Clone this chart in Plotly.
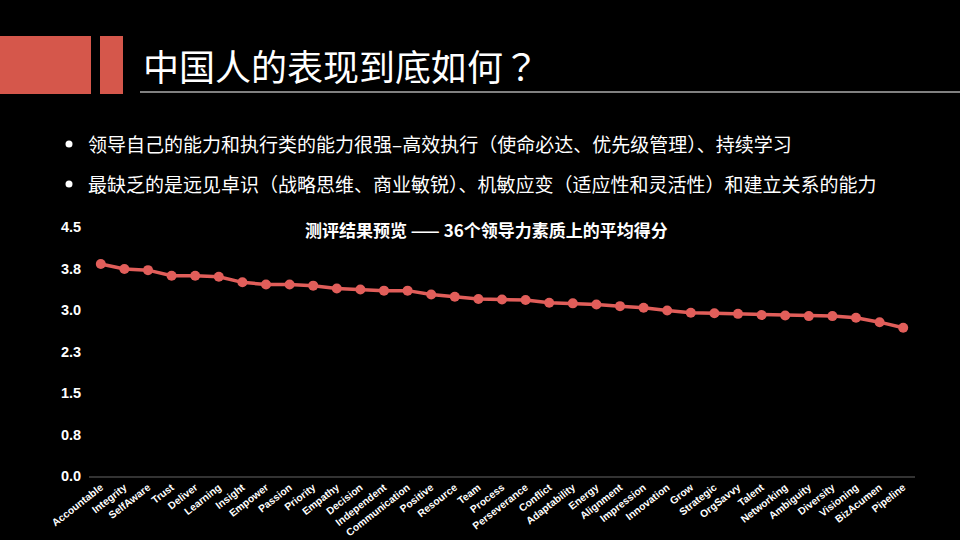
import plotly.graph_objects as go

# ---- data ----
categories = ["Accountable", "Integrity", "SelfAware", "Trust", "Deliver", "Learning",
              "Insight", "Empower", "Passion", "Priority", "Empathy", "Decision",
              "Independent", "Communication", "Positive", "Resource", "Team", "Process",
              "Perseverance", "Conflict", "Adaptability", "Energy", "Alignment",
              "Impression", "Innovation", "Grow", "Strategic", "OrgSavvy", "Talent",
              "Networking", "Ambiguity", "Diversity", "Visioning", "BizAcumen", "Pipeline"]
scores = [3.83, 3.74, 3.72, 3.62, 3.62, 3.60, 3.50, 3.46, 3.46, 3.44, 3.39, 3.37,
          3.35, 3.35, 3.28, 3.24, 3.20, 3.19, 3.18, 3.13, 3.12, 3.10, 3.07, 3.04,
          2.99, 2.95, 2.94, 2.93, 2.91, 2.90, 2.89, 2.89, 2.86, 2.78, 2.68]
y_tickvals = [0, 0.75, 1.5, 2.25, 3.0, 3.75, 4.5]
y_ticktext = ["0.0", "0.8", "1.5", "2.3", "3.0", "3.8", "4.5"]

slide_title = "中国人的表现到底如何？"
bullets = ["领导自己的能力和执行类的能力很强–高效执行（使命必达、优先级管理）、持续学习",
           "最缺乏的是远见卓识（战略思维、商业敏锐）、机敏应变（适应性和灵活性）和建立关系的能力"]
chart_title = "测评结果预览 —— 36个领导力素质上的平均得分"

# ---- layout geometry (pixels) ----
W, H = 960, 540
L, R, T, B = 89, 45, 227, 64
PW, PH = W - L - R, H - T - B


def px(x):
    return (x - L) / PW


def py(y):
    return (H - B - y) / PH


RED = "#D5574B"
LINE = "#E15E5A"

fig = go.Figure()
fig.add_trace(go.Scatter(
    x=categories, y=scores, mode="lines+markers",
    line=dict(color=LINE, width=3.5),
    marker=dict(color=LINE, size=10),
    hoverinfo="skip", showlegend=False,
))

shapes = [
    dict(type="rect", xref="paper", yref="paper", x0=px(0), x1=px(91), y0=py(94), y1=py(36),
         fillcolor=RED, line=dict(width=0), layer="above"),
    dict(type="rect", xref="paper", yref="paper", x0=px(100), x1=px(123), y0=py(94), y1=py(36),
         fillcolor=RED, line=dict(width=0), layer="above"),
    dict(type="line", xref="paper", yref="paper", x0=px(140), x1=px(960), y0=py(92), y1=py(92),
         line=dict(color="#FFFFFF", width=1.2)),
]
for yy in (144, 184):
    shapes.append(dict(type="circle", xref="paper", yref="paper",
                       x0=px(65.5), x1=px(72.5), y0=py(yy + 3.5), y1=py(yy - 3.5),
                       fillcolor="#FFFFFF", line=dict(width=0)))

annotations = [
    dict(text=slide_title, xref="paper", yref="paper", x=px(141), y=py(65),
         xanchor="left", yanchor="middle", showarrow=False,
         font=dict(family="Noto Sans CJK TC", size=36, color="#FFFFFF")),
    dict(text=chart_title, xref="paper", yref="paper", x=px(486), y=py(229),
         xanchor="center", yanchor="middle", showarrow=False,
         font=dict(family="Noto Sans CJK SC", size=17, color="#FFFFFF", weight="bold")),
]
for yy, txt in zip((143, 183), bullets):
    annotations.append(dict(text=txt, xref="paper", yref="paper", x=px(86), y=py(yy),
                            xanchor="left", yanchor="middle", showarrow=False,
                            font=dict(family="Noto Sans CJK SC", size=19, color="#FFFFFF")))

fig.update_layout(
    width=W, height=H,
    margin=dict(l=L, r=R, t=T, b=B, autoexpand=False),
    paper_bgcolor="#000000", plot_bgcolor="#000000",
    shapes=shapes, annotations=annotations,
    xaxis=dict(
        type="category", showgrid=False, zeroline=False,
        showline=True, linecolor="#333333", linewidth=1.5,
        tickangle=-38, automargin=False,
        tickfont=dict(family="Liberation Sans", size=10.3, color="#FFFFFF", weight="bold"),
        ticks="", ticklabelstandoff=0,
        range=[-0.5, len(categories) - 0.5],
    ),
    yaxis=dict(
        range=[0, 4.5], tickvals=y_tickvals, ticktext=y_ticktext,
        showgrid=False, zeroline=False, showline=False, automargin=False,
        tickfont=dict(family="Liberation Sans", size=14.5, color="#FFFFFF", weight="bold"),
        ticks="outside", ticklen=4, tickcolor="rgba(0,0,0,0)",
    ),
)

fig.write_html("out.html",
               config={"displayModeBar": False, "staticPlot": True},
               post_script="document.body.style.margin='0px';"
                           "document.body.style.background='#000000';")
